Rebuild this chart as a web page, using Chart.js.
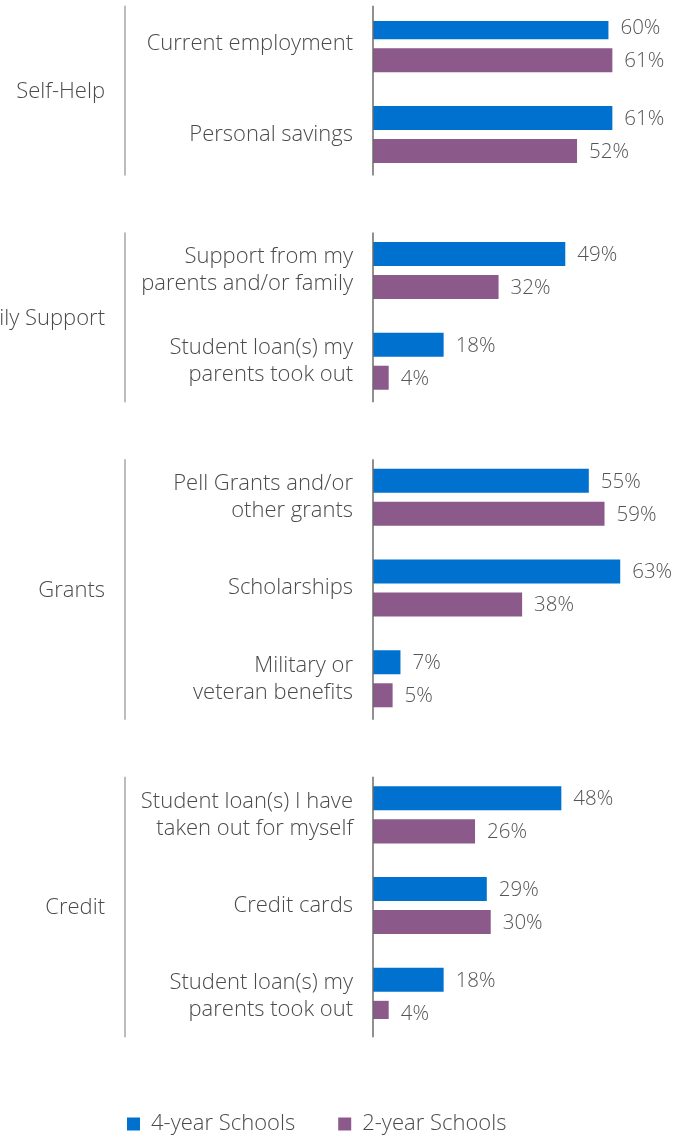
<!DOCTYPE html>
<html>
<head>
<meta charset="utf-8">
<script src="https://cdn.jsdelivr.net/npm/chart.js@4.4.1/dist/chart.umd.min.js"></script>
<style>
  html, body { margin: 0; padding: 0; background: #fff; }
</style>
</head>
<body>
<canvas id="chart" width="683" height="1135"></canvas>
<script>
const groups = ["Self-Help", "Family Support", "Grants", "Credit"];
const groupSizes = [2, 2, 3, 3];
const items = [
  ["Current employment"],
  ["Personal savings"],
  ["Support from my", "parents and/or family"],
  ["Student loan(s) my", "parents took out"],
  ["Pell Grants and/or", "other grants"],
  ["Scholarships"],
  ["Military or", "veteran benefits"],
  ["Student loan(s) I have", "taken out for myself"],
  ["Credit cards"],
  ["Student loan(s) my", "parents took out"]
];
const fourYear = [60, 61, 49, 18, 55, 63, 7, 48, 29, 18];
const twoYear = [61, 52, 32, 4, 59, 38, 5, 26, 30, 4];
const seriesNames = ["4-year Schools", "2-year Schools"];
const seriesColors = ["#0071ce", "#8b5a8b"];

const FONT = "'Open Sans', sans-serif";
const WEIGHT = 300;
const TEXT = "#4a4a4a";

// one empty slot between items, two between groups
const slotLabels = [], slotA = [], slotB = [], groupRange = [];
let k = 0;
groups.forEach((g, gi) => {
  if (gi > 0) { slotLabels.push("", ""); slotA.push(null, null); slotB.push(null, null); }
  const first = slotLabels.length;
  for (let j = 0; j < groupSizes[gi]; j++) {
    if (j > 0) { slotLabels.push(""); slotA.push(null); slotB.push(null); }
    slotLabels.push(items[k]);
    slotA.push(fourYear[k]);
    slotB.push(twoYear[k]);
    k++;
  }
  groupRange.push([first, slotLabels.length - 1]);
});

const valueLabels = {
  id: "valueLabels",
  afterDatasetsDraw(chart) {
    const ctx = chart.ctx;
    ctx.save();
    ctx.font = WEIGHT + " 20.5px " + FONT;
    ctx.fillStyle = "#555";
    ctx.textAlign = "left";
    ctx.textBaseline = "middle";
    chart.data.datasets.forEach((ds, i) => {
      chart.getDatasetMeta(i).data.forEach((bar, j) => {
        if (ds.data[j] == null) return;
        ctx.fillText(ds.data[j] + "%", bar.x + 12, bar.y + 1);
      });
    });
    ctx.restore();
  }
};

const groupFrames = {
  id: "groupFrames",
  afterDraw(chart) {
    const ctx = chart.ctx;
    const y = chart.scales.y;
    const axisX = chart.chartArea.left;
    ctx.save();
    groupRange.forEach(([a, b], gi) => {
      const top = y.getPixelForValue(a) - 38;
      const bottom = y.getPixelForValue(b) + 41;
      ctx.lineWidth = 1.5;
      ctx.strokeStyle = "#a6a6a6";
      ctx.beginPath();
      ctx.moveTo(125, top);
      ctx.lineTo(125, bottom);
      ctx.stroke();
      ctx.strokeStyle = "#6b6b6b";
      ctx.beginPath();
      ctx.moveTo(axisX, top);
      ctx.lineTo(axisX, bottom);
      ctx.stroke();
      ctx.font = WEIGHT + " 22px " + FONT;
      ctx.fillStyle = TEXT;
      ctx.textAlign = "right";
      ctx.textBaseline = "middle";
      ctx.fillText(groups[gi], 105, (top + bottom) / 2 + 1);
    });
    ctx.restore();
  }
};

new Chart(document.getElementById("chart"), {
  type: "bar",
  data: {
    labels: slotLabels,
    datasets: [
      { label: seriesNames[0], data: slotA, backgroundColor: seriesColors[0] },
      { label: seriesNames[1], data: slotB, backgroundColor: seriesColors[1] }
    ]
  },
  options: {
    indexAxis: "y",
    responsive: false,
    animation: false,
    events: [],
    datasets: {
      bar: { categoryPercentage: 1.456, barPercentage: 0.727, borderWidth: 0 }
    },
    layout: { padding: { left: 84, top: 21, right: 0, bottom: -10 } },
    scales: {
      y: {
        grid: { display: false, drawTicks: false },
        border: { display: false },
        ticks: {
          autoSkip: false,
          padding: 20,
          color: TEXT,
          font: { family: FONT, weight: WEIGHT, size: 22, lineHeight: 1.23 }
        },
        afterFit: s => {
          s.width = 289;
          s.paddingTop = 0;
          s.paddingBottom = 0;
        }
      },
      x: {
        min: 0,
        max: 79,
        grid: { display: false, drawTicks: false },
        border: { display: false },
        ticks: { display: false },
        afterFit: s => { s.height = 51; }
      }
    },
    plugins: {
      tooltip: { enabled: false },
      legend: {
        position: "bottom",
        align: "start",
        labels: {
          boxWidth: 13,
          boxHeight: 13,
          padding: 43,
          color: TEXT,
          font: { family: FONT, weight: WEIGHT, size: 22 }
        }
      }
    }
  },
  plugins: [valueLabels, groupFrames]
});
</script>
</body>
</html>
